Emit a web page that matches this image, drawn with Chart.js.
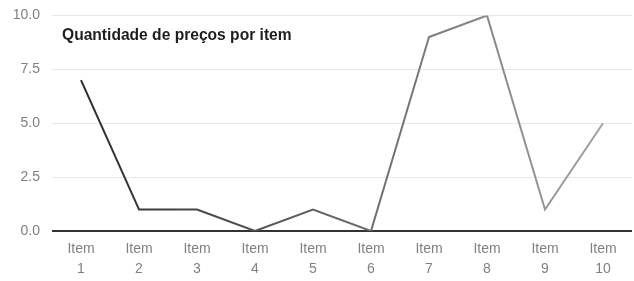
<!DOCTYPE html>
<html>
<head>
<meta charset="utf-8">
<script src="https://cdn.jsdelivr.net/npm/chart.js@4"></script>
<style>
  html, body { margin: 0; padding: 0; background: #fff; }
  #wrap { width: 634px; height: 281px; position: relative; }
</style>
</head>
<body>
<div id="wrap"><canvas id="chart"></canvas></div>
<script>
const categories = ['1', '2', '3', '4', '5', '6', '7', '8', '9', '10'];
const counts = [7, 1, 1, 0, 1, 0, 9, 10, 1, 5];
const yTicks = [0, 2.5, 5, 7.5, 10];
const chartTitle = 'Quantidade de preços por item';

// title sits inside the plot area, top-left
const innerTitle = {
  id: 'innerTitle',
  afterDraw(chart) {
    const { ctx, chartArea } = chart;
    ctx.save();
    ctx.font = 'bold 15.6px "Liberation Sans", Arial, sans-serif';
    ctx.fillStyle = '#1e1e1e';
    ctx.textBaseline = 'middle';
    ctx.fillText(chartTitle, chartArea.left + 10, chartArea.top + 20);
    ctx.restore();
  }
};

function lineGradient(context) {
  const { ctx, chartArea } = context.chart;
  if (!chartArea) return '#444';
  const g = ctx.createLinearGradient(chartArea.left, 0, chartArea.right, 0);
  g.addColorStop(0, '#262626');
  g.addColorStop(1, '#a8a8a8');
  return g;
}

new Chart(document.getElementById('chart'), {
  type: 'line',
  data: {
    labels: categories.map(c => ['Item', c]),
    datasets: [{
      data: counts,
      borderColor: lineGradient,
      borderWidth: 2,
      pointRadius: 0,
      tension: 0,
      fill: false
    }]
  },
  options: {
    responsive: true,
    maintainAspectRatio: false,
    animation: false,
    layout: { padding: { top: 0, right: 2, left: 0, bottom: 0 } },
    plugins: { legend: { display: false }, title: { display: false }, tooltip: { enabled: false } },
    scales: {
      x: {
        offset: true,
        afterFit(scale) { scale.height = 50; },
        grid: { display: false, drawTicks: false },
        border: { display: false },
        ticks: {
          color: '#808080',
          font: { family: '"Liberation Sans", Arial, sans-serif', size: 14, lineHeight: 1.45 },
          maxRotation: 0,
          autoSkip: false,
          padding: 8
        }
      },
      y: {
        min: 0,
        max: 10,
        afterFit(scale) { scale.width = 52; },
        afterBuildTicks(scale) { scale.ticks = yTicks.map(v => ({ value: v })); },
        grid: {
          color: ctx => ctx.tick && ctx.tick.value === 0 ? '#333' : '#e8e8e8',
          lineWidth: ctx => ctx.tick && ctx.tick.value === 0 ? 2 : 1,
          drawTicks: false
        },
        border: { display: false },
        ticks: {
          color: '#808080',
          padding: 12,
          font: { family: '"Liberation Sans", Arial, sans-serif', size: 14, lineHeight: 0.5 },
          callback: v => Number(v).toFixed(1)
        }
      }
    }
  },
  plugins: [innerTitle]
});
</script>
</body>
</html>
